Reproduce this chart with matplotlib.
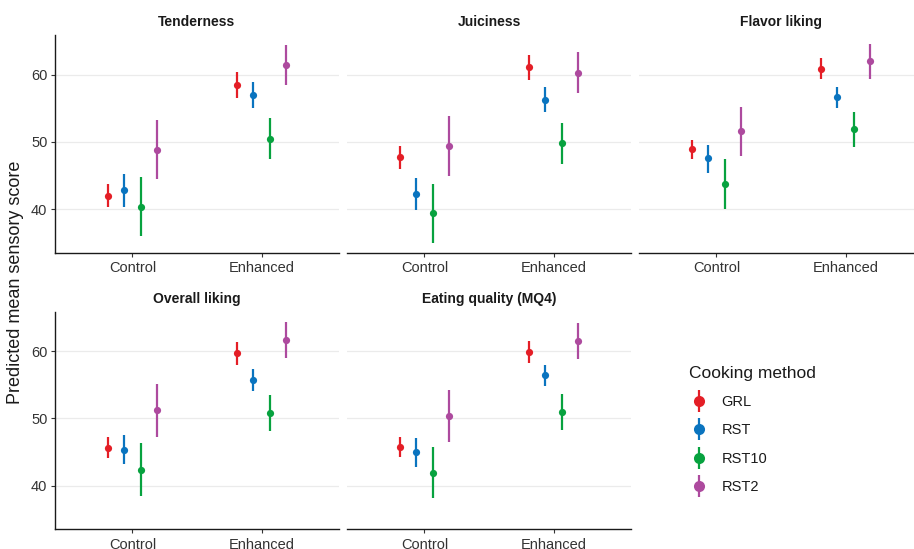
import matplotlib
matplotlib.use("Agg")
import matplotlib.pyplot as plt
from matplotlib.lines import Line2D

plt.rcParams["font.family"] = ["Liberation Sans", "DejaVu Sans"]

# Categories and groups
treatments = ["Control", "Enhanced"]
methods = ["GRL", "RST", "RST10", "RST2"]
method_colors = ["#E41E26", "#0A74BF", "#07A23F", "#AD4A9E"]
panel_titles = ["Tenderness", "Juiciness", "Flavor liking",
                "Overall liking", "Eating quality (MQ4)"]

# Predicted means and interval bounds, ordered GRL, RST, RST10, RST2
# Tenderness
tenderness_control = [42.0, 42.9, 40.4, 48.8]
tenderness_control_lo = [40.3, 40.4, 36.0, 44.5]
tenderness_control_hi = [43.8, 45.3, 44.8, 53.2]
tenderness_enhanced = [58.5, 57.0, 50.4, 61.4]
tenderness_enhanced_lo = [56.6, 55.0, 47.4, 58.4]
tenderness_enhanced_hi = [60.4, 58.9, 53.5, 64.4]

# Juiciness
juiciness_control = [47.8, 42.3, 39.4, 49.4]
juiciness_control_lo = [46.0, 39.9, 35.0, 45.0]
juiciness_control_hi = [49.4, 44.7, 43.8, 53.8]
juiciness_enhanced = [61.1, 56.2, 49.8, 60.3]
juiciness_enhanced_lo = [59.2, 54.4, 46.7, 57.3]
juiciness_enhanced_hi = [62.9, 58.1, 52.8, 63.4]

# Flavor liking
flavor_control = [48.9, 47.6, 43.8, 51.6]
flavor_control_lo = [47.5, 45.4, 40.1, 47.9]
flavor_control_hi = [50.3, 49.6, 47.4, 55.2]
flavor_enhanced = [60.9, 56.7, 51.9, 62.0]
flavor_enhanced_lo = [59.3, 55.0, 49.3, 59.4]
flavor_enhanced_hi = [62.5, 58.2, 54.4, 64.6]

# Overall liking
overall_control = [45.6, 45.3, 42.4, 51.3]
overall_control_lo = [44.1, 43.2, 38.4, 47.3]
overall_control_hi = [47.2, 47.6, 46.3, 55.2]
overall_enhanced = [59.7, 55.7, 50.8, 61.7]
overall_enhanced_lo = [58.0, 54.1, 48.1, 59.0]
overall_enhanced_hi = [61.4, 57.4, 53.5, 64.4]

# Eating quality (MQ4)
mq4_control = [45.8, 45.0, 41.9, 50.4]
mq4_control_lo = [44.3, 42.8, 38.1, 46.5]
mq4_control_hi = [47.3, 47.1, 45.7, 54.3]
mq4_enhanced = [59.9, 56.5, 50.9, 61.6]
mq4_enhanced_lo = [58.2, 54.8, 48.3, 58.9]
mq4_enhanced_hi = [61.5, 58.0, 53.6, 64.2]

panels = [
    ((tenderness_control, tenderness_control_lo, tenderness_control_hi),
     (tenderness_enhanced, tenderness_enhanced_lo, tenderness_enhanced_hi)),
    ((juiciness_control, juiciness_control_lo, juiciness_control_hi),
     (juiciness_enhanced, juiciness_enhanced_lo, juiciness_enhanced_hi)),
    ((flavor_control, flavor_control_lo, flavor_control_hi),
     (flavor_enhanced, flavor_enhanced_lo, flavor_enhanced_hi)),
    ((overall_control, overall_control_lo, overall_control_hi),
     (overall_enhanced, overall_enhanced_lo, overall_enhanced_hi)),
    ((mq4_control, mq4_control_lo, mq4_control_hi),
     (mq4_enhanced, mq4_enhanced_lo, mq4_enhanced_hi)),
]

W, H = 914, 549
fig = plt.figure(figsize=(W / 100, H / 100), dpi=100)

# panel boxes in pixels: left, top, right, bottom
col_x = [(55, 339), (347, 631), (639, 923)]
row_y = [(35, 253), (311.7, 529.3)]

text_col = "#333333"
dodge = [-0.1875, -0.0625, 0.0625, 0.1875]

for idx, (title, groups) in enumerate(zip(panel_titles, panels)):
    r, c = divmod(idx, 3)
    x0, x1 = col_x[c]
    y0, y1 = row_y[r]
    ax = fig.add_axes([x0 / W, 1 - y1 / H, (x1 - x0) / W, (y1 - y0) / H])
    ax.set_xlim(0.4, 2.6)
    ax.set_ylim(33.5, 65.9)
    ax.set_yticks([40, 50, 60])
    ax.set_xticks([1, 2])
    ax.set_xticklabels(treatments)
    ax.grid(axis="y", color="#EBEBEB", linewidth=0.9)
    ax.set_axisbelow(True)
    for s in ["top", "right"]:
        ax.spines[s].set_visible(False)
    ax.spines["bottom"].set_linewidth(1.0)
    ax.spines["bottom"].set_color("#1a1a1a")
    if c == 0:
        ax.spines["left"].set_linewidth(1.0)
        ax.spines["left"].set_color("#1a1a1a")
        ax.tick_params(axis="y", length=3, width=0.8, pad=2.5,
                       labelsize=10.5, labelcolor=text_col, color="#333333")
    else:
        ax.spines["left"].set_visible(False)
        ax.tick_params(axis="y", length=0, labelleft=False)
    ax.tick_params(axis="x", length=3, width=0.8, pad=3,
                   labelsize=10.5, labelcolor=text_col, color="#333333")

    for t_i, (est, lo, hi) in enumerate(groups):
        for m_i in range(len(methods)):
            xpos = t_i + 1 + dodge[m_i]
            ax.vlines(xpos, lo[m_i], hi[m_i], color=method_colors[m_i],
                      linewidth=1.6, zorder=3)
            ax.plot([xpos], [est[m_i]], "o", color=method_colors[m_i],
                    markersize=5.2, markeredgewidth=0, zorder=4)

    ax.set_title(title, fontsize=10, fontweight="bold", color="#1a1a1a",
                 pad=6.5)

fig.text(16 / W, 1 - 282 / H, "Predicted mean sensory score", rotation=90,
         ha="center", va="center", fontsize=13, color="#1a1a1a")

# legend
handles = []
for col in method_colors:
    bar = Line2D([], [], color=col, marker="|", markersize=16,
                 markeredgewidth=1.6, linestyle="none")
    dot = Line2D([], [], color=col, marker="o", markersize=8,
                 markeredgewidth=0, linestyle="none")
    handles.append((bar, dot))
leg = fig.legend(handles, methods, title="Cooking method",
                 loc="upper left", bbox_to_anchor=(683 / W, 1 - 360 / H),
                 frameon=False, fontsize=10.5, title_fontsize=12.5,
                 labelspacing=0.98, handlelength=1.4, handletextpad=0.85,
                 borderaxespad=0)
leg._legend_box.align = "left"
for t in leg.get_texts():
    t.set_color("#1a1a1a")
leg.get_title().set_color("#1a1a1a")

fig.savefig("out.png", dpi=100, facecolor="white")
